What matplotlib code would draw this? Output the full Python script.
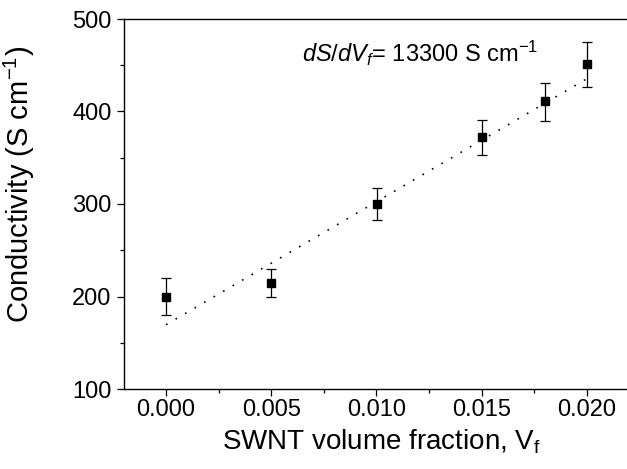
import matplotlib
matplotlib.use('Agg')
import matplotlib.pyplot as plt
from matplotlib.ticker import MultipleLocator, FormatStrFormatter

plt.rcParams['font.family'] = ['Liberation Sans', 'DejaVu Sans']
plt.rcParams['mathtext.fontset'] = 'custom'
plt.rcParams['mathtext.rm'] = 'Liberation Sans'
plt.rcParams['mathtext.it'] = 'Liberation Sans:italic'

# data
VF = [0.000, 0.005, 0.010, 0.015, 0.018, 0.020]
SIGMA = [200, 215, 300, 372, 411, 451]
ERR_LO = [20, 15, 17, 19, 21, 25]
ERR_HI = [20, 15, 17, 19, 20, 24]

# linear fit shown as dotted line
FIT_X = [0.000, 0.020]
SLOPE = 13300
INTERCEPT = 169.5
FIT_Y = [INTERCEPT + SLOPE * x for x in FIT_X]

fig = plt.figure(figsize=(6.27, 4.69), dpi=100)
ax = fig.add_axes([124/627, 1 - 389/469, 505/627, 370/469])

ax.errorbar(VF, SIGMA, yerr=[ERR_LO, ERR_HI], fmt='s', color='black',
            markersize=6, capsize=3.3, elinewidth=0.9, capthick=0.9)
ax.plot(FIT_X, FIT_Y, color='black', linewidth=1.2, linestyle=(0, (1, 5.6)))

ax.set_xlim(-0.002, 0.022)
ax.set_ylim(100, 500)
ax.xaxis.set_major_locator(MultipleLocator(0.005))
ax.xaxis.set_minor_locator(MultipleLocator(0.0025))
ax.xaxis.set_major_formatter(FormatStrFormatter('%.3f'))
ax.yaxis.set_major_locator(MultipleLocator(100))
ax.yaxis.set_minor_locator(MultipleLocator(50))

ax.tick_params(which='both', direction='out', top=False, right=False,
               labelsize=17, width=0.9)
ax.tick_params(which='major', length=5)
ax.tick_params(which='minor', length=3)
ax.tick_params(axis='x', pad=2)
ax.tick_params(axis='y', pad=4)
for s in ax.spines.values():
    s.set_linewidth(1.0)

ax.set_xlabel('SWNT volume fraction, V$_\\mathrm{f}$', fontsize=20)
ax.set_ylabel('Conductivity (S cm$^{-1}$)', fontsize=21)
ax.xaxis.set_label_coords(0.51, -0.105)
ax.yaxis.set_label_coords(-0.172, 0.554)

ax.text(0.00646, 453.5, r'$\mathit{dS/dV_f}$= 13300 S cm$^{-1}$', fontsize=17,
        va='baseline')

fig.savefig('out.png', dpi=100)
